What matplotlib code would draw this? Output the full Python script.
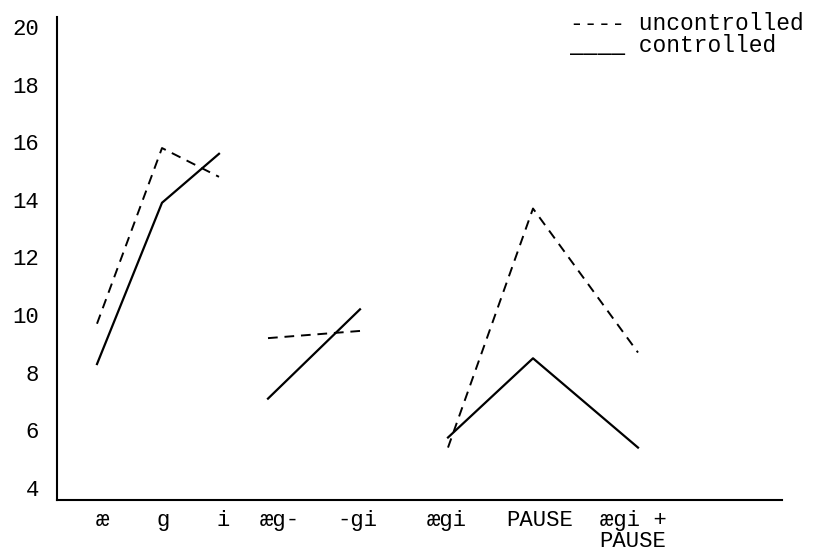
import matplotlib
matplotlib.use("Agg")
import matplotlib.pyplot as plt
import numpy as np

plt.rcParams["font.family"] = ["Liberation Mono", "DejaVu Sans Mono"]

# categories et valeurs
categories = ["æ", "g", "i", "æg-", "-gi", "ægi", "PAUSE", "ægi +\nPAUSE"]
uncontrolled = [9.7, 15.8, 14.8, 9.2, 9.45, 5.4, 13.7, 8.7]
controlled = [8.3, 13.9, 15.6, 7.1, 10.2, 5.75, 8.5, 5.4]
groups = [(0, 3), (3, 5), (5, 8)]
yticks = [4, 6, 8, 10, 12, 14, 16, 18, 20]

# mise en page (positions des points et des étiquettes)
xpos = np.array([0.97, 1.62, 2.19, 2.68, 3.60, 4.48, 5.33, 6.38])
xlab = np.array([1.02, 1.63, 2.23, 2.80, 3.57, 4.47, 5.40, 6.33])

fig = plt.figure(figsize=(8.18, 5.55), dpi=100)
ax = fig.add_axes([57 / 818, 1 - 500 / 555, (782 - 57) / 818, (500 - 17) / 555])

for a, b in groups:
    ax.plot(xpos[a:b], uncontrolled[a:b], color="black", lw=1.4,
            linestyle=(0, (5, 3.5)))
    ax.plot(xpos[a:b], controlled[a:b], color="black", lw=1.6)

ax.set_xlim(0.57, 7.82)
ax.set_ylim(3.58, 20.35)

ax.set_yticks(yticks)
ax.set_yticklabels([str(v) for v in yticks], fontsize=16)
ax.set_xticks(xlab)
ax.set_xticklabels(categories, fontsize=16, linespacing=1.0)
ax.tick_params(axis="y", length=0, pad=13)
ax.tick_params(axis="x", length=0, pad=7)

for s in ["top", "right"]:
    ax.spines[s].set_visible(False)
for s in ["left", "bottom"]:
    ax.spines[s].set_linewidth(1.5)
    ax.spines[s].set_color("black")

# légende tapée à la machine
fig.text(570 / 818, 1 - 24 / 555, "---- uncontrolled", fontsize=16.5,
         va="center", ha="left")
fig.text(570 / 818, 1 - 45 / 555, "____ controlled", fontsize=16.5,
         va="center", ha="left")

fig.savefig("out.png", dpi=100)
